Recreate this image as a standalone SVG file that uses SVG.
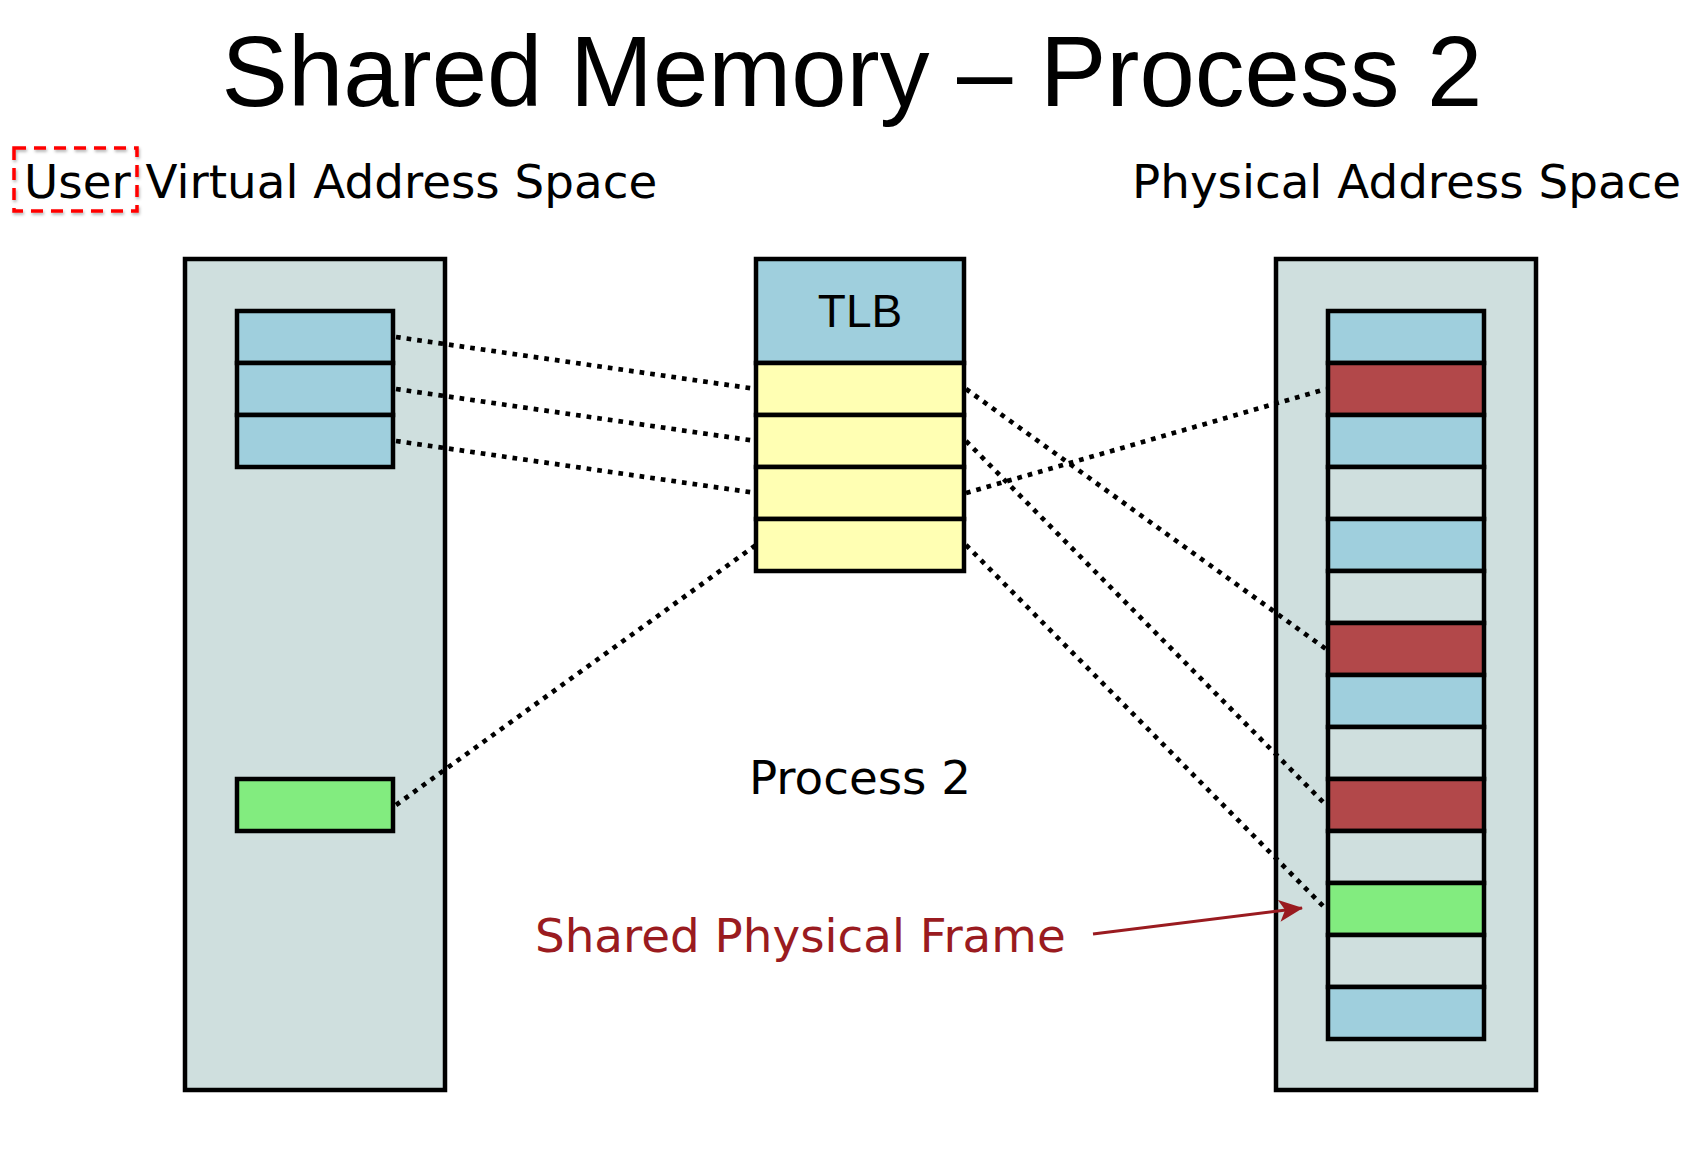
<svg xmlns="http://www.w3.org/2000/svg" width="1704" height="1160" viewBox="0 0 1704 1160">
<style>
.box{stroke:#000;stroke-width:4.5}
.bg{fill:#cfdfde}
.bl{fill:#9fcfdd}
.rd{fill:#b2484a}
.yl{fill:#ffffb3}
.gn{fill:#82ec7f}
.lbl{font-family:"DejaVu Sans",sans-serif;font-size:46.8px;fill:#000}
.dot{stroke:#000;stroke-width:4.7;stroke-dasharray:4.7 6;fill:none}
</style>
<defs>
<filter id="sh" x="-20%" y="-20%" width="140%" height="140%">
<feDropShadow dx="1" dy="2" stdDeviation="1.5" flood-color="#000" flood-opacity="0.3"/>
</filter>
<marker id="ah" markerWidth="24" markerHeight="22" refX="23" refY="11" orient="auto" markerUnits="userSpaceOnUse" viewBox="0 0 24 22">
<path d="M0,0 L24,11 L0,22 L6,11 Z" fill="#9a1b20"/>
</marker>
</defs>
<rect width="1704" height="1160" fill="#fff"/>
<text x="852" y="106" text-anchor="middle" font-family="'Liberation Sans',Arial,sans-serif" font-size="99.5" fill="#000">Shared Memory – Process 2</text>
<g id="user-label">
<rect x="14" y="148" width="123" height="63" fill="none" stroke="#f00" stroke-width="3.5" stroke-dasharray="12 8" filter="url(#sh)"/>
<text class="lbl" x="24" y="198">User Virtual Address Space</text>
</g>
<text class="lbl" x="1132" y="198">Physical Address Space</text>
<g id="virtual-space">
<rect class="box bg" x="185" y="259" width="260" height="831"/>
<rect class="box bl" x="237" y="311" width="156" height="52"/>
<rect class="box bl" x="237" y="363" width="156" height="52"/>
<rect class="box bl" x="237" y="415" width="156" height="52"/>
<rect class="box gn" x="237" y="779" width="156" height="52"/>
</g>
<g id="tlb">
<rect class="box bl" x="756" y="259" width="208" height="104"/>
<rect class="box yl" x="756" y="363" width="208" height="52"/>
<rect class="box yl" x="756" y="415" width="208" height="52"/>
<rect class="box yl" x="756" y="467" width="208" height="52"/>
<rect class="box yl" x="756" y="519" width="208" height="52"/>
<text x="860" y="327" text-anchor="middle" font-family="'Liberation Sans',Arial,sans-serif" font-size="46" fill="#000">TLB</text>
</g>
<g id="physical-space">
<rect class="box bg" x="1276" y="259" width="260" height="831"/>
<rect class="box bl" x="1328" y="311" width="156" height="52"/>
<rect class="box rd" x="1328" y="363" width="156" height="52"/>
<rect class="box bl" x="1328" y="415" width="156" height="52"/>
<rect class="box bg" x="1328" y="467" width="156" height="52"/>
<rect class="box bl" x="1328" y="519" width="156" height="52"/>
<rect class="box bg" x="1328" y="571" width="156" height="52"/>
<rect class="box rd" x="1328" y="623" width="156" height="52"/>
<rect class="box bl" x="1328" y="675" width="156" height="52"/>
<rect class="box bg" x="1328" y="727" width="156" height="52"/>
<rect class="box rd" x="1328" y="779" width="156" height="52"/>
<rect class="box bg" x="1328" y="831" width="156" height="52"/>
<rect class="box gn" x="1328" y="883" width="156" height="52"/>
<rect class="box bg" x="1328" y="935" width="156" height="52"/>
<rect class="box bl" x="1328" y="987" width="156" height="52"/>
</g>
<g id="connectors">
<line class="dot" x1="396" y1="337" x2="756" y2="389"/>
<line class="dot" x1="396" y1="389" x2="756" y2="441"/>
<line class="dot" x1="396" y1="441" x2="756" y2="493"/>
<line class="dot" x1="396" y1="805" x2="756" y2="545"/>
<line class="dot" x1="966" y1="389" x2="1326" y2="649"/>
<line class="dot" x1="966" y1="441" x2="1326" y2="805"/>
<line class="dot" x1="966" y1="493" x2="1326" y2="389"/>
<line class="dot" x1="966" y1="545" x2="1326" y2="909"/>
<line x1="1093" y1="934" x2="1302" y2="908" stroke="#9a1b20" stroke-width="3" marker-end="url(#ah)"/>
</g>
<g id="labels">
<text class="lbl" x="860" y="794" text-anchor="middle">Process 2</text>
<text class="lbl" x="535" y="952" style="fill:#9a1b20">Shared Physical Frame</text>
</g>
</svg>
